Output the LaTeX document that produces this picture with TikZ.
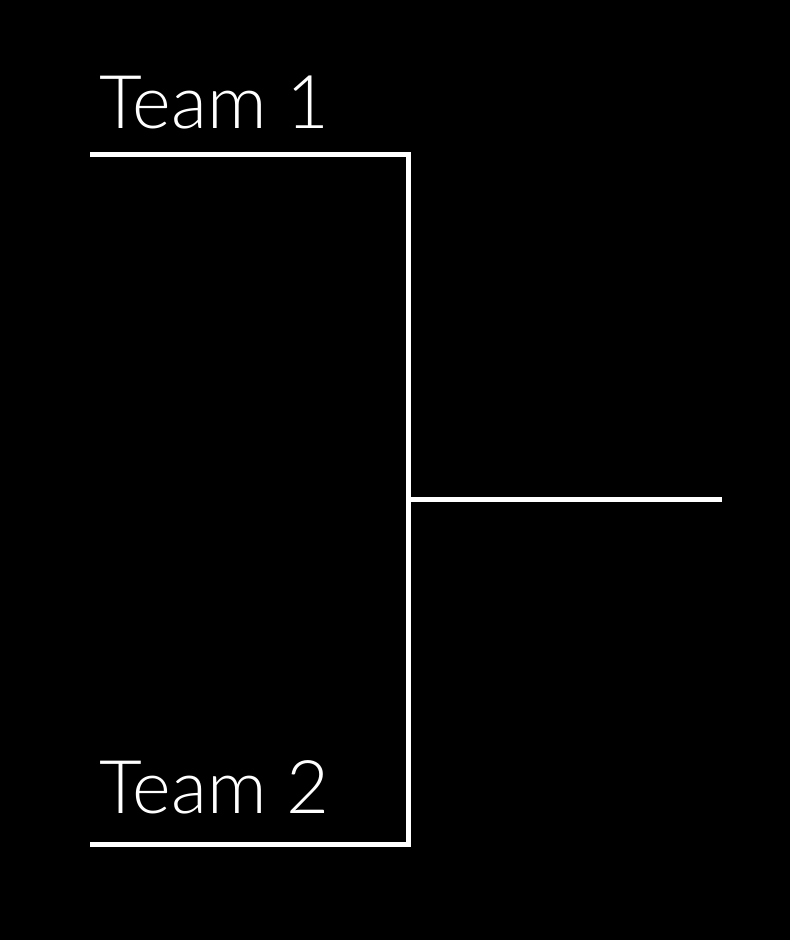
\documentclass[tikz,border=0pt]{standalone}
\usepackage{fontspec}
\setmainfont{Lato}[UprightFont=* Light]
\begin{document}
\begin{tikzpicture}[x=1pt,y=-1pt,
  bracket/.style={draw=white,line width=5pt,line join=miter},
  team/.style={text=white,inner sep=0pt,anchor=base west,font=\fontsize{74}{80}\selectfont}]
\fill[black] (0,0) rectangle (790,940);
\useasboundingbox (0,0) rectangle (790,940);
\coordinate (a1) at (90,154);
\coordinate (c1) at (408,154);
\coordinate (c2) at (408,844);
\coordinate (a2) at (90,844);
\coordinate (m) at (408,499);
\coordinate (w) at (722,499);
\node[team] (t1) at (99,128) {Team 1};
\node[team] (t2) at (99,813) {Team 2};
\draw[bracket] (a1) -- (c1) -- (c2) -- (a2);
\draw[bracket] (m) -- (w);
\end{tikzpicture}
\end{document}
